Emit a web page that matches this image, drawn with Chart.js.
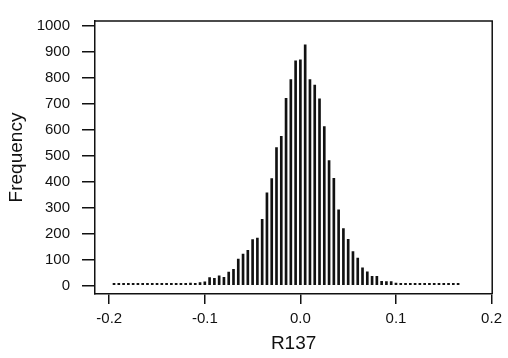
<!DOCTYPE html>
<html>
<head>
<meta charset="utf-8">
<script src="https://cdn.jsdelivr.net/npm/chart.js@4/dist/chart.umd.min.js"></script>
<style>
  html, body { margin: 0; padding: 0; background: #fff; }
  #wrap { width: 508px; height: 358px; }
</style>
</head>
<body>
<div id="wrap"><canvas id="hist" width="508" height="358"></canvas></div>
<script>
// bin centres of R137 (bin width 0.005)
const binCenters = [
  -0.195, -0.19, -0.185, -0.18, -0.175, -0.17, -0.165, -0.16, -0.155, -0.15,
  -0.145, -0.14, -0.135, -0.13, -0.125, -0.12, -0.115, -0.11, -0.105, -0.1,
  -0.095, -0.09, -0.085, -0.08, -0.075, -0.07, -0.065, -0.06, -0.055, -0.05,
  -0.045, -0.04, -0.035, -0.03, -0.025, -0.02, -0.015, -0.01, -0.005, 0,
  0.005, 0.01, 0.015, 0.02, 0.025, 0.03, 0.035, 0.04, 0.045, 0.05,
  0.055, 0.06, 0.065, 0.07, 0.075, 0.08, 0.085, 0.09, 0.095, 0.1,
  0.105, 0.11, 0.115, 0.12, 0.125, 0.13, 0.135, 0.14, 0.145, 0.15,
  0.155, 0.16, 0.165
];
// frequency per bin
const frequencies = [
  2, 2, 2, 2, 3, 2, 3, 3, 4, 3,
  5, 4, 6, 5, 7, 6, 9, 8, 11, 14,
  30, 27, 37, 31, 51, 62, 101, 121, 135, 176,
  182, 254, 356, 411, 530, 573, 720, 792, 864, 868,
  925, 792, 771, 718, 611, 480, 412, 291, 219, 177,
  130, 105, 68, 52, 35, 35, 16, 15, 15, 9,
  6, 5, 5, 4, 4, 3, 3, 3, 2, 2,
  2, 1, 1
];
const xTicks = [-0.2, -0.1, 0, 0.1, 0.2];
const yTicks = [0, 100, 200, 300, 400, 500, 600, 700, 800, 900, 1000];

const fontFamily = "'Liberation Sans', Arial, Helvetica, sans-serif";
const ink = "#111";

// top and right sides of the frame
const framePlugin = {
  id: "frame",
  afterDraw(chart) {
    const { ctx, chartArea: a } = chart;
    ctx.save();
    ctx.strokeStyle = ink;
    ctx.lineWidth = 1.5;
    ctx.beginPath();
    ctx.moveTo(a.left, a.top);
    ctx.lineTo(a.right, a.top);
    ctx.lineTo(a.right, a.bottom);
    ctx.stroke();
    ctx.restore();
  },
};

new Chart(document.getElementById("hist"), {
  type: "bar",
  data: {
    datasets: [
      {
        data: binCenters.map((x, i) => ({ x: x, y: frequencies[i] })),
        backgroundColor: ink,
        borderWidth: 0,
        barThickness: 2,
        minBarLength: 2,
      },
    ],
  },
  options: {
    responsive: false,
    animation: false,
    layout: { padding: { top: 11, right: 14, left: 0, bottom: 0 } },
    plugins: { legend: { display: false }, tooltip: { enabled: false } },
    scales: {
      x: {
        type: "linear",
        offset: false,
        min: -0.2149,
        max: 0.2007,
        afterFit: (s) => { s.height = 64; },
        afterBuildTicks: (s) => { s.ticks = xTicks.map((v) => ({ value: v })); },
        grid: { display: true, offset: false, drawOnChartArea: false, drawTicks: true, tickLength: 10, color: ink, lineWidth: 1.5 },
        border: { display: true, color: ink, width: 1.5 },
        ticks: {
          color: ink,
          padding: 6,
          maxRotation: 0,
          font: { family: fontFamily, size: 15 },
          callback: (v) => v.toFixed(1),
        },
        title: {
          display: true,
          text: "R137",
          color: ink,
          font: { family: fontFamily, size: 19 },
          padding: { top: 0, bottom: 3 },
        },
      },
      y: {
        min: -33,
        max: 1017,
        afterFit: (s) => { s.width = 95; },
        afterBuildTicks: (s) => { s.ticks = yTicks.map((v) => ({ value: v })); },
        grid: { display: true, drawOnChartArea: false, drawTicks: true, tickLength: 13, color: ink, lineWidth: 1.5 },
        border: { display: true, color: ink, width: 1.5 },
        ticks: {
          color: ink,
          padding: 12,
          font: { family: fontFamily, size: 15 },
          callback: (v) => String(v),
        },
        title: {
          display: true,
          text: "Frequency",
          color: ink,
          font: { family: fontFamily, size: 19 },
          padding: { top: 5, bottom: 0 },
        },
      },
    },
  },
  plugins: [framePlugin],
});
</script>
</body>
</html>
